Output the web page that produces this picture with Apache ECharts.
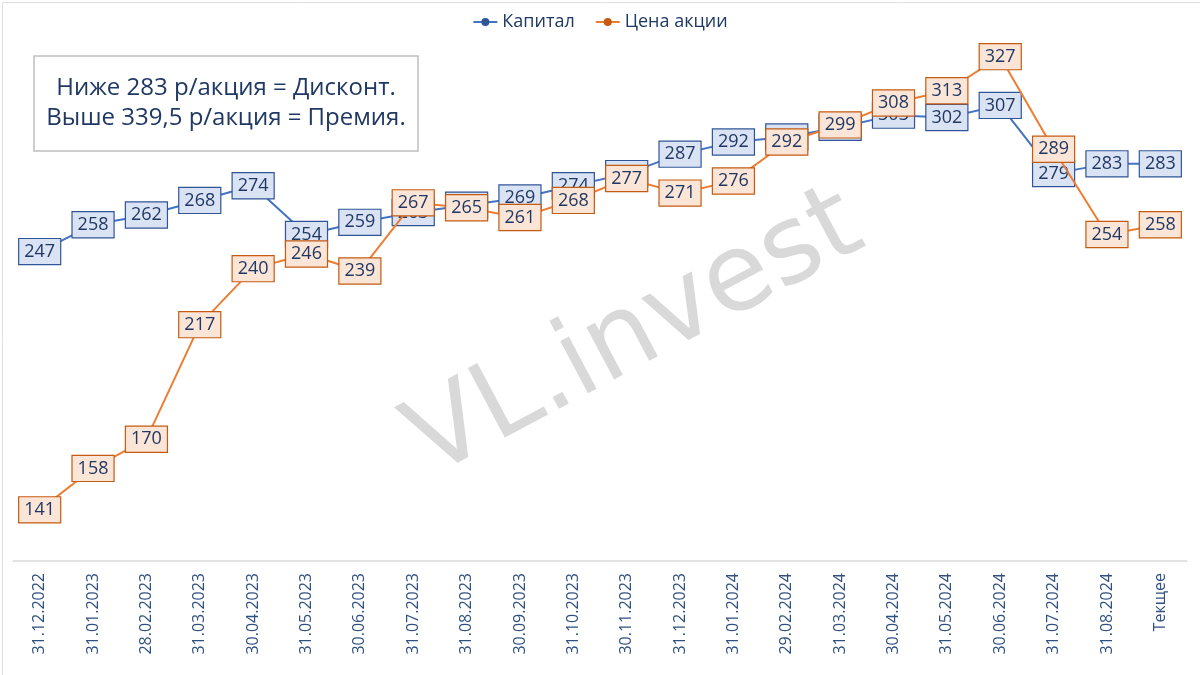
<!DOCTYPE html>
<html><head><meta charset="utf-8">
<script src="https://cdn.jsdelivr.net/npm/echarts@6/dist/echarts.min.js"></script>
<style>html,body{margin:0;padding:0;background:#fff}#c{width:1200px;height:675px}</style>
</head><body><div id="c"></div>
<script>
const categories = ['31.12.2022','31.01.2023','28.02.2023','31.03.2023','30.04.2023','31.05.2023','30.06.2023','31.07.2023','31.08.2023','30.09.2023','31.10.2023','30.11.2023','31.12.2023','31.01.2024','29.02.2024','31.03.2024','30.04.2024','31.05.2024','30.06.2024','31.07.2024','31.08.2024','Текщее'];
const capital = [247,258,262,268,274,254,259,263,266,269,274,279,287,292,294,298,303,302,307,279,283,283];
const price = [141,158,170,217,240,246,239,267,265,261,268,277,271,276,292,299,308,313,327,289,254,258];
const noteLines = ['Ниже 283 р/акция = Дисконт.','Выше 339,5 р/акция = Премия.'];
const watermark = 'VL.invest';

const FONT = '"Open Sans", "Noto Sans", sans-serif';
const TXT = '#203864';
const chart = echarts.init(document.getElementById('c'));
function lbl(bg, border){
  return {show:true, position:'inside', fontFamily:FONT, fontSize:18, color:TXT,
    backgroundColor:bg, borderColor:border, borderWidth:1.2, padding:[4,5,3,5]};
}
chart.setOption({
  animation:false,
  grid:{left:13, right:13, top:25, bottom:114},
  legend:{top:8, left:'center', itemGap:20, itemWidth:24, itemHeight:10,
    textStyle:{fontFamily:FONT, fontSize:18, color:TXT},
    data:['Капитал','Цена акции']},
  xAxis:{type:'category', data:categories, boundaryGap:true,
    axisLine:{lineStyle:{color:'#d9d9d9', width:1.5}}, axisTick:{show:false},
    axisLabel:{rotate:90, fontFamily:FONT, fontSize:16, color:'#2f5080', margin:12, interval:0}},
  yAxis:{type:'value', min:120, max:340, show:false, splitLine:{show:false}},
  graphic:[
    {type:'rect', left:0, top:0, shape:{width:1199, height:674}, style:{fill:'none', stroke:'#e0e0e0', lineWidth:1}, silent:true},
    {type:'text', rotation:Math.PI*28/180, x:636, y:336,
      style:{text:watermark, font:'108px "DejaVu Sans", sans-serif', fill:'#d9d9d9', textAlign:'center', textVerticalAlign:'middle'},
      z:0, silent:true},
    {type:'rect', shape:{x:34, y:56, width:384, height:95}, style:{fill:'#fff', stroke:'#bfbfbf', lineWidth:1.5}, z:5},
    {type:'text', x:226, y:88, style:{text:noteLines[0], font:'24px "Open Sans", sans-serif', fill:TXT, textAlign:'center', textVerticalAlign:'middle'}, z:6},
    {type:'text', x:226, y:118, style:{text:noteLines[1], font:'24px "Open Sans", sans-serif', fill:TXT, textAlign:'center', textVerticalAlign:'middle'}, z:6}
  ],
  series:[
    {name:'Капитал', type:'line', data:capital, color:'#4472c4', symbol:'circle', symbolSize:6,
      lineStyle:{width:2, color:'#4472c4'}, itemStyle:{color:'#2f5597'},
      label:lbl('#dae3f3','#2f5597'), z:3},
    {name:'Цена акции', type:'line', data:price, color:'#ed7d31', symbol:'circle', symbolSize:6,
      lineStyle:{width:2, color:'#ed7d31'}, itemStyle:{color:'#c55a11'},
      label:lbl('#fbe5d6','#c55a11'), z:4}
  ]
});
</script></body></html>
